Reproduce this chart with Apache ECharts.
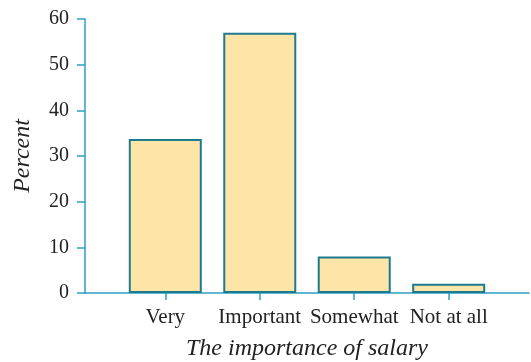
<!DOCTYPE html>
<html>
<head>
<meta charset="utf-8">
<script src="https://cdn.jsdelivr.net/npm/echarts@6/dist/echarts.min.js"></script>
<style>html,body{margin:0;padding:0;background:#fff}#c{width:531px;height:362px}</style>
</head>
<body>
<div id="c"></div>
<script>
var categories = ['Very', 'Important', 'Somewhat', 'Not at all'];
var percents = [33.7, 57.0, 8.0, 2.0];
var yTicks = [0, 10, 20, 30, 40, 50, 60];

var positions = categories.map(function (c, i) { return i + 1; });
var chart = echarts.init(document.getElementById('c'));
var axisColor = '#2E9EC6';
var font = 'Liberation Serif';
chart.setOption({
  animation: false,
  grid: { left: 85, right: 2, top: 19, bottom: 69, outerBoundsMode: 'none', containLabel: false },
  xAxis: {
    type: 'value', min: 0.15, max: 4.85,
    name: 'The importance of salary', nameLocation: 'middle', nameGap: 44,
    nameTextStyle: { fontFamily: font, fontStyle: 'italic', fontSize: 24, color: '#222' },
    axisLine: { show: true, lineStyle: { color: axisColor, width: 1.5 } },
    axisTick: { show: true, customValues: positions, length: 7, lineStyle: { color: axisColor, width: 1.5 } },
    axisLabel: {
      customValues: positions, margin: 14,
      formatter: function (v) { return categories[Math.round(v) - 1] || ''; },
      fontFamily: font, fontSize: 21, color: '#222'
    },
    splitLine: { show: false }
  },
  yAxis: {
    type: 'value', min: yTicks[0], max: yTicks[yTicks.length - 1], interval: 10,
    name: 'Percent', nameLocation: 'middle', nameGap: 50, nameRotate: 90,
    nameTextStyle: { fontFamily: font, fontStyle: 'italic', fontSize: 24, color: '#222' },
    axisLine: { show: true, lineStyle: { color: axisColor, width: 1.5 } },
    axisTick: { show: true, length: 8, lineStyle: { color: axisColor, width: 1.5 } },
    axisLabel: { margin: 16, fontFamily: font, fontSize: 20, color: '#222' },
    splitLine: { show: false }
  },
  series: [{
    type: 'bar', barWidth: 73,
    data: percents.map(function (p, i) { return [positions[i], p]; }),
    itemStyle: { color: '#FDE5A7', borderColor: '#1E7A8E', borderWidth: 2 }
  }]
});
</script>
</body>
</html>
